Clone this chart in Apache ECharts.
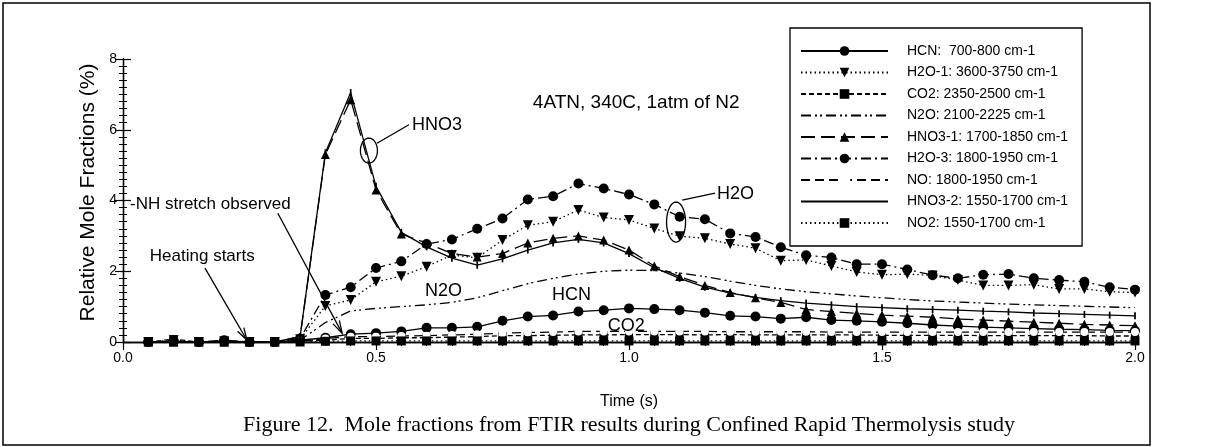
<!DOCTYPE html>
<html>
<head>
<meta charset="utf-8">
<script src="https://cdn.jsdelivr.net/npm/echarts@6/dist/echarts.min.js"></script>
<style>
html, body { margin: 0; padding: 0; background: #fff; }
#main { width: 1215px; height: 447px; }
</style>
</head>
<body>
<div id="main"></div>
<script>
// sample times (s)
var times = [0.05, 0.10, 0.15, 0.20, 0.25, 0.30, 0.35, 0.40, 0.45, 0.50,
  0.55, 0.60, 0.65, 0.70, 0.75, 0.80, 0.85, 0.90, 0.95, 1.00,
  1.05, 1.10, 1.15, 1.20, 1.25, 1.30, 1.35, 1.40, 1.45, 1.50,
  1.55, 1.60, 1.65, 1.70, 1.75, 1.80, 1.85, 1.90, 1.95, 2.00];

// relative mole fractions (%)
var hcn = [0, 0.02, 0, 0.03, 0, 0, 0.05, 0.12, 0.22, 0.25,
  0.30, 0.40, 0.40, 0.43, 0.60, 0.72, 0.75, 0.86, 0.90, 0.95,
  0.93, 0.90, 0.83, 0.74, 0.72, 0.66, 0.70, 0.62, 0.60, 0.57,
  0.53, 0.48, 0.45, 0.42, 0.40, 0.38, 0.36, 0.35, 0.33, 0.32];
var h2o1 = [0, 0.05, 0, 0.02, 0, 0, 0.08, 1.02, 1.19, 1.70,
  1.86, 2.13, 2.46, 2.38, 2.88, 3.30, 3.40, 3.73, 3.52, 3.45,
  3.21, 2.99, 2.93, 2.77, 2.65, 2.30, 2.32, 2.15, 1.98, 1.90,
  1.92, 1.88, 1.75, 1.60, 1.60, 1.62, 1.50, 1.50, 1.42, 1.40];
var co2 = [0, 0.08, 0, 0.02, 0, 0, 0.02, 0.05, 0.10, 0.10,
  0.12, 0.12, 0.14, 0.15, 0.18, 0.18, 0.19, 0.20, 0.20, 0.21,
  0.21, 0.21, 0.20, 0.21, 0.20, 0.20, 0.20, 0.20, 0.20, 0.19,
  0.19, 0.19, 0.19, 0.18, 0.18, 0.18, 0.18, 0.18, 0.17, 0.17];
var n2o = [0, 0, 0, 0, 0, 0, 0.05, 0.55, 0.88, 0.95,
  1.00, 1.05, 1.12, 1.25, 1.45, 1.65, 1.80, 1.92, 2.00, 2.03,
  2.02, 1.95, 1.85, 1.72, 1.60, 1.50, 1.42, 1.36, 1.30, 1.25,
  1.20, 1.16, 1.13, 1.10, 1.07, 1.05, 1.03, 1.01, 0.99, 0.97];
var hno31 = [0, 0, 0, 0, 0, 0, 0.15, 5.30, 6.85, 4.30,
  3.05, 2.80, 2.50, 2.40, 2.50, 2.80, 2.93, 3.00, 2.88, 2.60,
  2.15, 1.85, 1.60, 1.40, 1.25, 1.12, 0.92, 0.86, 0.81, 0.76,
  0.73, 0.70, 0.65, 0.62, 0.59, 0.56, 0.53, 0.50, 0.48, 0.46];
var h2o3 = [0, 0.03, 0, 0.05, 0, 0, 0.10, 1.33, 1.55, 2.09,
  2.28, 2.77, 2.90, 3.20, 3.49, 4.03, 4.12, 4.48, 4.34, 4.17,
  3.89, 3.54, 3.47, 3.07, 2.97, 2.68, 2.45, 2.39, 2.20, 2.20,
  2.05, 1.89, 1.80, 1.90, 1.92, 1.80, 1.75, 1.70, 1.55, 1.48];
var no = [0, 0, 0, 0, 0, 0, 0.02, 0.10, 0.15, 0.15,
  0.17, 0.18, 0.20, 0.22, 0.25, 0.27, 0.28, 0.30, 0.30, 0.30,
  0.30, 0.30, 0.30, 0.29, 0.29, 0.29, 0.29, 0.28, 0.28, 0.28,
  0.28, 0.28, 0.28, 0.28, 0.28, 0.28, 0.28, 0.28, 0.28, 0.28];
var hno32 = [0, 0, 0, 0, 0, 0, 0.15, 5.35, 7.05, 4.40,
  3.10, 2.69, 2.37, 2.17, 2.35, 2.60, 2.80, 2.90, 2.80, 2.50,
  2.10, 1.80, 1.55, 1.38, 1.26, 1.17, 1.10, 1.05, 1.00, 0.97,
  0.94, 0.92, 0.90, 0.87, 0.85, 0.82, 0.80, 0.78, 0.76, 0.74];
var no2 = [0, 0, 0, 0, 0, 0, 0, 0.02, 0.03, 0.03,
  0.03, 0.03, 0.03, 0.03, 0.03, 0.03, 0.03, 0.03, 0.03, 0.03,
  0.03, 0.03, 0.03, 0.03, 0.03, 0.03, 0.03, 0.03, 0.03, 0.03,
  0.03, 0.03, 0.03, 0.03, 0.03, 0.03, 0.03, 0.03, 0.03, 0.03];

var names = ['HCN:  700-800 cm-1', 'H2O-1: 3600-3750 cm-1', 'CO2: 2350-2500 cm-1',
  'N2O: 2100-2225 cm-1', 'HNO3-1: 1700-1850 cm-1', 'H2O-3: 1800-1950 cm-1',
  'NO: 1800-1950 cm-1', 'HNO3-2: 1550-1700 cm-1', 'NO2: 1550-1700 cm-1'];
var values = [hcn, h2o1, co2, n2o, hno31, h2o3, no, hno32, no2];

var yTicks = ['0', '2', '4', '6', '8'];

// line dash / marker for each series, in legend order
var tick = 'path://M0,0L1,0L1,4L0,4Z';
var looks = [
  { dash: 'solid', symbol: 'circle', size: 10 },
  { dash: [1.5, 3], symbol: 'triangle', size: 10, rotate: 180 },
  { dash: [5, 3], symbol: 'rect', size: 8 },
  { dash: [10, 4, 2, 3, 2, 4], symbol: 'none', size: 0, hideMark: true },
  { dash: [14, 6], symbol: 'triangle', size: 9 },
  { dash: [10, 4, 2, 4], symbol: 'circle', size: 10 },
  { dash: [9, 5], symbol: 'emptyCircle', size: 6 },
  { dash: 'solid', symbol: tick, size: 7, hideMark: true },
  { dash: [1.5, 3], symbol: 'rect', size: 9 }
];

var font = 'Liberation Sans, Arial, sans-serif';

var chart = echarts.init(document.getElementById('main'));

var series = names.map(function (nm, i) {
  var lk = looks[i];
  return {
    name: nm,
    type: 'line',
    xAxisIndex: 0,
    yAxisIndex: 0,
    data: times.map(function (t, j) { return [t, values[i][j]]; }),
    symbol: lk.symbol,
    symbolSize: lk.size,
    symbolRotate: lk.rotate || 0,
    symbolKeepAspect: true,
    showAllSymbol: true,
    animation: false,
    lineStyle: { color: '#000', width: 1.3, type: lk.dash },
    itemStyle: { color: lk.symbol === 'emptyCircle' ? '#fff' : '#000', borderColor: '#000', borderWidth: lk.symbol === 'emptyCircle' ? 1.5 : 0 },
    z: 2
  };
});

// legend entries: some keep their line but hide the marker
var legendData = names.map(function (nm, i) {
  return looks[i].hideMark
    ? { name: nm, itemStyle: { color: 'rgba(0,0,0,0)', borderWidth: 0 } }
    : { name: nm };
});

var axisCommon = {
  axisLine: { show: true, lineStyle: { color: '#000', width: 1.3 } },
  splitLine: { show: false },
  axisTick: { show: true, inside: true, length: 8, lineStyle: { color: '#000', width: 1.2 } },
  minorTick: { show: true, splitNumber: 10, length: 4, lineStyle: { color: '#000', width: 1 } }
};

var option = {
  backgroundColor: '#fff',
  animation: false,
  grid: { left: 123, right: 80, top: 59, bottom: 105 },
  legend: {
    orient: 'vertical',
    left: 790,
    top: 28,
    padding: [15, 14, 15, 10],
    itemWidth: 87,
    itemHeight: 12,
    itemGap: 5.5,
    borderColor: '#000',
    borderWidth: 1.3,
    backgroundColor: '#fff',
    textStyle: { fontFamily: font, fontSize: 14, color: '#000', lineHeight: 16, padding: [0, 0, 0, 14] },
    data: legendData
  },
  xAxis: [
    Object.assign({}, axisCommon, {
      type: 'value', min: 0, max: 2, interval: 0.5, position: 'bottom',
      name: 'Time (s)', nameLocation: 'middle', nameGap: 52,
      nameTextStyle: { fontFamily: font, fontSize: 16, color: '#000' },
      axisLabel: { fontFamily: font, fontSize: 14, color: '#000', margin: 9,
        formatter: function (v) { return v.toFixed(1); } }
    }),
    Object.assign({}, axisCommon, {
      type: 'value', min: 0, max: 2, interval: 0.5, position: 'top',
      axisLabel: { show: false }
    })
  ],
  yAxis: [
    Object.assign({}, axisCommon, {
      type: 'value', min: 0, max: 8, interval: 2, position: 'left',
      name: 'Relative Mole Fractions (%)', nameLocation: 'middle', nameGap: 24,
      nameTextStyle: { fontFamily: font, fontSize: 21, color: '#000', padding: [0, 0, 0, 16] },
      axisLabel: { fontFamily: font, fontSize: 14, color: '#000', margin: 6,
        formatter: function (v) { return yTicks[v / 2]; } }
    }),
    Object.assign({}, axisCommon, {
      type: 'value', min: 0, max: 8, interval: 2, position: 'right',
      axisLabel: { show: false }
    })
  ],
  series: series
};

chart.setOption(option);

// annotations, placed in data units
function px(t, v) { return chart.convertToPixel({ xAxisIndex: 0, yAxisIndex: 0 }, [t, v]); }

function label(text, t, v, size) {
  var p = px(t, v);
  return { type: 'text', x: p[0], y: p[1], z: 10,
    style: { text: text, fill: '#000', font: (size || 18) + 'px ' + font, textVerticalAlign: 'middle' } };
}
function seg(t1, v1, t2, v2) {
  var a = px(t1, v1), b = px(t2, v2);
  return { type: 'line', z: 10, shape: { x1: a[0], y1: a[1], x2: b[0], y2: b[1] },
    style: { stroke: '#000', lineWidth: 1.3 } };
}
function arrow(t1, v1, t2, v2) {
  var a = px(t1, v1), b = px(t2, v2);
  var ang = Math.atan2(b[1] - a[1], b[0] - a[0]);
  var L = 13, w = 0.28;
  var h1 = [b[0] - L * Math.cos(ang - w), b[1] - L * Math.sin(ang - w)];
  var h2 = [b[0] - L * Math.cos(ang + w), b[1] - L * Math.sin(ang + w)];
  return [
    { type: 'line', z: 10, shape: { x1: a[0], y1: a[1], x2: b[0], y2: b[1] }, style: { stroke: '#000', lineWidth: 1.3 } },
    { type: 'polyline', z: 10, shape: { points: [h1, b, h2] }, style: { stroke: '#000', lineWidth: 1.3, fill: null } }
  ];
}
function ellipse(t, v, rx, ry) {
  var c = px(t, v), pts = [];
  for (var k = 0; k < 48; k++) {
    var a = k / 48 * Math.PI * 2;
    pts.push([c[0] + rx * Math.cos(a), c[1] + ry * Math.sin(a)]);
  }
  return { type: 'polygon', z: 10, shape: { points: pts }, style: { stroke: '#000', lineWidth: 1.3, fill: null } };
}

var g = [
  label('4ATN, 340C, 1atm of N2', 0.81, 6.75, 19),
  label('HNO3', 0.571, 6.14),
  seg(0.565, 6.14, 0.502, 5.62),
  ellipse(0.486, 5.41, 8.5, 12.5),
  label('H2O', 1.174, 4.17),
  seg(1.17, 4.21, 1.105, 4.01),
  ellipse(1.093, 3.39, 9.5, 20),
  label('N2O', 0.597, 1.43),
  label('HCN', 0.848, 1.33),
  label('CO2', 0.958, 0.44),
  label('Heating starts', 0.053, 2.43, 17),
  label('-NH stretch observed', 0.014, 3.9, 17)
].concat(arrow(0.162, 2.09, 0.245, 0.05), arrow(0.306, 3.64, 0.433, 0.25));

var mid = px(1.0, 0)[0];
g.push({ type: 'text', x: mid, y: 425, z: 10,
  style: { text: 'Figure 12.  Mole fractions from FTIR results during Confined Rapid Thermolysis study',
    fill: '#000', font: '22px Liberation Serif, Times New Roman, serif', textAlign: 'center', textVerticalAlign: 'middle' } });
g.push({ type: 'rect', z: 0, shape: { x: 3, y: 3, width: 1147, height: 442 },
  style: { stroke: '#000', lineWidth: 1.5, fill: null } });

chart.setOption({ graphic: g });
</script>
</body>
</html>
